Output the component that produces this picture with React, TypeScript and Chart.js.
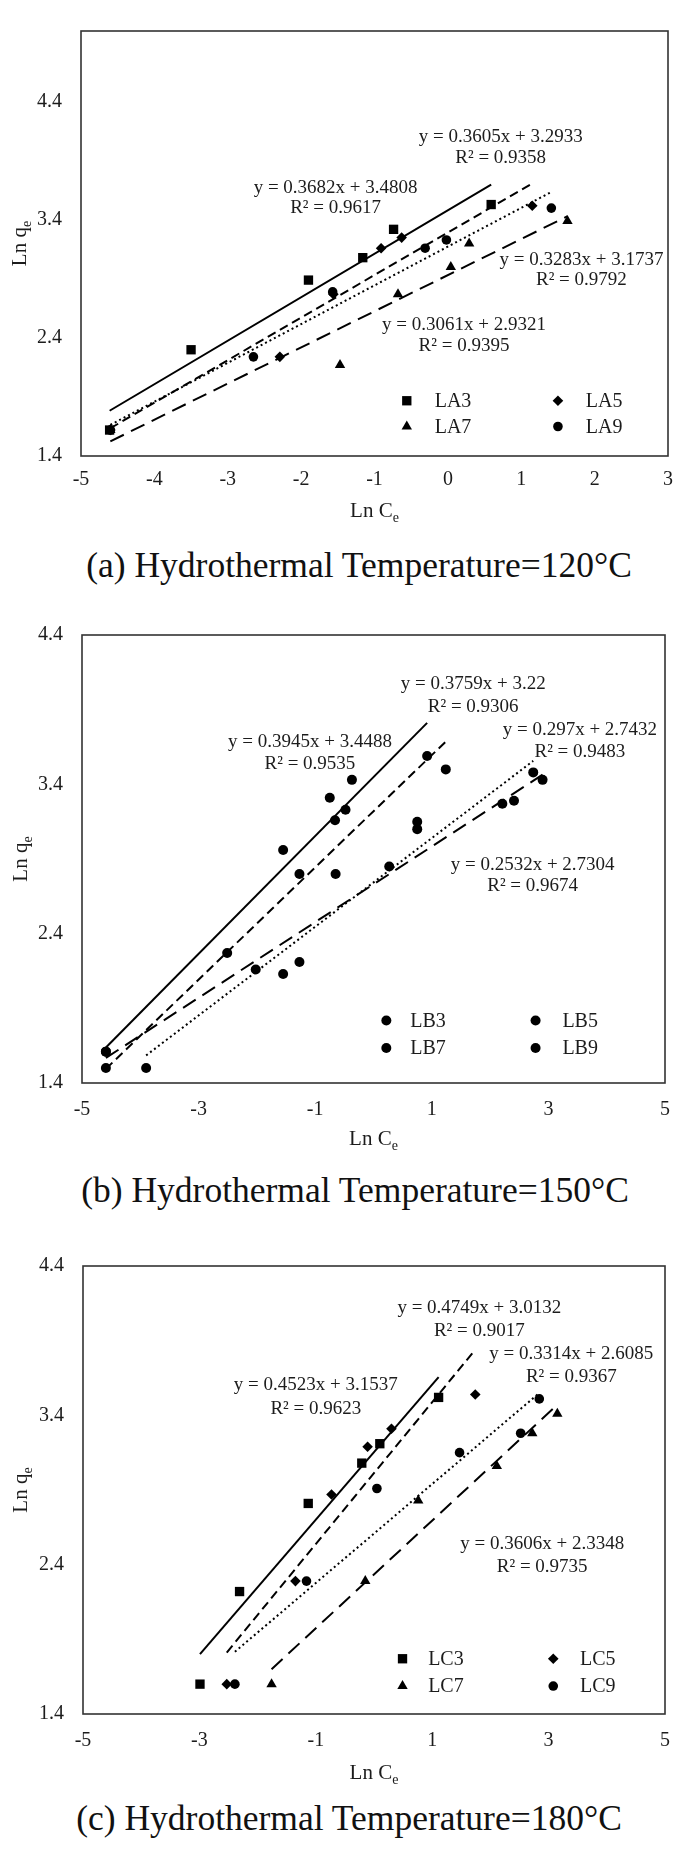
import React, { useEffect, useRef } from "react";
import { Chart, registerables } from "chart.js";

Chart.register(...registerables);

const FONT = "'Liberation Serif', 'Times New Roman', serif";
const INK = "#1c1c1c";

// ---------------- (a) 120 °C ----------------
const LA3_X = [-4.61, -3.5, -1.9, -1.16, -0.74, 0.59];
const LA3_Y = [1.62, 2.3, 2.89, 3.08, 3.32, 3.53];
const LA5_X = [-4.6, -2.29, -1.56, -0.91, -0.63, 1.15];
const LA5_Y = [1.62, 2.24, 2.77, 3.16, 3.25, 3.52];
const LA7_X = [-4.6, -1.47, -0.68, 0.04, 0.29, 1.63];
const LA7_Y = [1.62, 2.17, 2.77, 3.0, 3.2, 3.39];
const LA9_X = [-4.6, -2.65, -1.57, -0.31, -0.02, 1.41];
const LA9_Y = [1.62, 2.24, 2.79, 3.16, 3.23, 3.5];
const A_NAMES = ["LA3", "LA5", "LA7", "LA9"];
const A_SLOPES = [0.3682, 0.3605, 0.3061, 0.3283];
const A_INTERCEPTS = [3.4808, 3.2933, 2.9321, 3.1737];
const A_R2 = ["0.9617", "0.9358", "0.9395", "0.9792"];

// ---------------- (b) 150 °C ----------------
const LB3_X = [-4.59, -1.55, -0.75, -0.48, -0.37, 0.92];
const LB3_Y = [1.61, 2.96, 3.31, 3.23, 3.43, 3.59];
const LB5_X = [-4.59, -2.51, -1.27, -0.66, -0.65, 1.24];
const LB5_Y = [1.5, 2.27, 2.8, 3.16, 2.8, 3.5];
const LB7_X = [-4.59, -1.55, -1.27, 0.75, 2.41, 2.9];
const LB7_Y = [1.61, 2.13, 2.21, 3.1, 3.29, 3.43];
const LB9_X = [-3.9, -2.02, 0.27, 0.75, 2.21, 2.74];
const LB9_Y = [1.5, 2.16, 2.85, 3.15, 3.27, 3.48];
const B_NAMES = ["LB3", "LB5", "LB7", "LB9"];
const B_SLOPES = [0.3945, 0.3759, 0.2532, 0.297];
const B_INTERCEPTS = [3.4488, 3.22, 2.7304, 2.7432];
const B_R2 = ["0.9535", "0.9306", "0.9674", "0.9483"];

// ---------------- (c) 180 °C ----------------
const LC3_X = [-2.99, -2.31, -1.13, -0.21, 0.1, 1.11];
const LC3_Y = [1.6, 2.22, 2.81, 3.08, 3.21, 3.52];
const LC5_X = [-2.53, -1.35, -0.73, -0.11, 0.3, 1.74];
const LC5_Y = [1.6, 2.29, 2.87, 3.19, 3.31, 3.54];
const LC7_X = [-1.76, -0.15, 0.76, 2.11, 2.72, 3.15];
const LC7_Y = [1.6, 2.29, 2.83, 3.06, 3.28, 3.41];
const LC9_X = [-2.39, -1.16, 0.05, 1.47, 2.52, 2.84];
const LC9_Y = [1.6, 2.29, 2.91, 3.15, 3.28, 3.51];
const C_NAMES = ["LC3", "LC5", "LC7", "LC9"];
const C_SLOPES = [0.4523, 0.4749, 0.3606, 0.3314];
const C_INTERCEPTS = [3.1537, 3.0132, 2.3348, 2.6085];
const C_R2 = ["0.9623", "0.9017", "0.9735", "0.9367"];

// ---------------- ticks ----------------
const X_TICKS_A = [-5, -4, -3, -2, -1, 0, 1, 2, 3];
const X_TICKS_BC = [-5, -3, -1, 1, 3, 5];
const Y_TICKS = [1.4, 2.4, 3.4, 4.4];

// ---------------- styles ----------------
const DASHES = [[], [9, 5], [15, 8], [2, 3]];
const SHAPES_SQ = ["rect", "rectRot", "triangle", "circle"];
const RADII_SQ = [6.6, 5.3, 6, 4.8];
const SHAPES_B = ["circle", "circle", "circle", "circle"];
const RADII_B = [5, 5, 5, 5];

type PanelDef = {
  canvasTop: number;
  canvasHeight: number;
  plot: { left: number; top: number; right: number; bottom: number };
  xMin: number; xMax: number; yMin: number; yMax: number;
  xTicks: number[];
  xs: number[][]; ys: number[][];
  names: string[]; slopes: number[]; intercepts: number[]; r2: string[];
  shapes: string[]; radii: number[];
  eqPos: number[][];
  legend: { mx: number[]; tx: number[]; rows: number[] };
  xTickPad: number;
  xTitleY: number;
  yTitleX: number;
  caption: string; capX: number; capY: number;
};

const PANELS: PanelDef[] = [
  {
    canvasTop: 0, canvasHeight: 540,
    plot: { left: 81, top: 6, right: 675, bottom: 456 },
    xMin: -5, xMax: 3, yMin: 1.4, yMax: 5.0,
    xTicks: X_TICKS_A,
    xs: [LA3_X, LA5_X, LA7_X, LA9_X], ys: [LA3_Y, LA5_Y, LA7_Y, LA9_Y],
    names: A_NAMES, slopes: A_SLOPES, intercepts: A_INTERCEPTS, r2: A_R2,
    shapes: SHAPES_SQ, radii: RADII_SQ,
    eqPos: [[-1.53, 3.67, 3.5], [0.72, 4.1, 3.92], [0.22, 2.51, 2.33], [1.82, 3.06, 2.89]],
    legend: { mx: [-0.56, 1.5], tx: [-0.18, 1.88], rows: [1.868, 1.65] },
    xTickPad: 12, xTitleY: 510, yTitleX: 19,
    caption: "(a) Hydrothermal Temperature=120°C", capX: 359, capY: 565,
  },
  {
    canvasTop: 600, canvasHeight: 560,
    plot: { left: 82, top: 635, right: 674, bottom: 1083 },
    xMin: -5, xMax: 5, yMin: 1.4, yMax: 4.4,
    xTicks: X_TICKS_BC,
    xs: [LB3_X, LB5_X, LB7_X, LB9_X], ys: [LB3_Y, LB5_Y, LB7_Y, LB9_Y],
    names: B_NAMES, slopes: B_SLOPES, intercepts: B_INTERCEPTS, r2: B_R2,
    shapes: SHAPES_B, radii: RADII_B,
    eqPos: [[-1.09, 3.683, 3.534], [1.71, 4.07, 3.92], [2.73, 2.863, 2.718], [3.54, 3.761, 3.616]],
    legend: { mx: [0.22, 2.78], tx: [0.63, 3.24], rows: [1.819, 1.634] },
    xTickPad: 15, xTitleY: 1138, yTitleX: 20,
    caption: "(b) Hydrothermal Temperature=150°C", capX: 355, capY: 1190,
  },
  {
    canvasTop: 1230, canvasHeight: 560,
    plot: { left: 83, top: 1266, right: 672, bottom: 1714 },
    xMin: -5, xMax: 5, yMin: 1.4, yMax: 4.4,
    xTicks: X_TICKS_BC,
    xs: [LC3_X, LC5_X, LC7_X, LC9_X], ys: [LC3_Y, LC5_Y, LC7_Y, LC9_Y],
    names: C_NAMES, slopes: C_SLOPES, intercepts: C_INTERCEPTS, r2: C_R2,
    shapes: SHAPES_SQ, radii: RADII_SQ,
    eqPos: [[-1.0, 3.603, 3.444], [1.81, 4.116, 3.962], [2.89, 2.541, 2.387], [3.39, 3.81, 3.656]],
    legend: { mx: [0.49, 3.08], tx: [0.93, 3.54], rows: [1.77, 1.587] },
    xTickPad: 15, xTitleY: 1772, yTitleX: 20,
    caption: "(c) Hydrothermal Temperature=180°C", capX: 349, capY: 1818,
  },
];

function drawMarker(ctx: CanvasRenderingContext2D, shape: string, x: number, y: number, r: number) {
  ctx.beginPath();
  if (shape === "rect") {
    const s = Math.SQRT1_2 * r;
    ctx.rect(x - s, y - s, 2 * s, 2 * s);
  } else if (shape === "rectRot") {
    ctx.moveTo(x - r, y);
    ctx.lineTo(x, y - r);
    ctx.lineTo(x + r, y);
    ctx.lineTo(x, y + r);
    ctx.closePath();
  } else if (shape === "triangle") {
    ctx.moveTo(x, y - r);
    ctx.lineTo(x + r * 0.866, y + r / 2);
    ctx.lineTo(x - r * 0.866, y + r / 2);
    ctx.closePath();
  } else {
    ctx.arc(x, y, r, 0, Math.PI * 2);
  }
  ctx.fill();
}

function drawSubLabel(ctx: CanvasRenderingContext2D, main: string, sub: string, cx: number, cy: number, size: number) {
  const subSize = Math.round(size * 0.66);
  ctx.font = `${size}px ${FONT}`;
  const w1 = ctx.measureText(main).width;
  ctx.font = `${subSize}px ${FONT}`;
  const w2 = ctx.measureText(sub).width;
  const start = cx - (w1 + w2) / 2;
  const base = cy + size * 0.33;
  ctx.textAlign = "left";
  ctx.textBaseline = "alphabetic";
  ctx.font = `${size}px ${FONT}`;
  ctx.fillText(main, start, base);
  ctx.font = `${subSize}px ${FONT}`;
  ctx.fillText(sub, start + w1, base + size * 0.22);
}

function makeDecor(p: PanelDef) {
  return {
    id: "decor",
    afterDraw(chart: any) {
      const ctx: CanvasRenderingContext2D = chart.ctx;
      const xs = chart.scales.x;
      const ys = chart.scales.y;
      const a = chart.chartArea;
      ctx.save();
      // plot frame
      ctx.strokeStyle = "#333";
      ctx.lineWidth = 1.6;
      ctx.setLineDash([]);
      ctx.strokeRect(a.left, a.top, a.right - a.left, a.bottom - a.top);
      ctx.fillStyle = INK;
      // trend equations
      ctx.font = `19px ${FONT}`;
      ctx.textAlign = "center";
      ctx.textBaseline = "middle";
      p.eqPos.forEach((pos, i) => {
        const px = xs.getPixelForValue(pos[0]);
        ctx.fillText(`y = ${p.slopes[i]}x + ${p.intercepts[i]}`, px, ys.getPixelForValue(pos[1]));
        ctx.fillText(`R² = ${p.r2[i]}`, px, ys.getPixelForValue(pos[2]));
      });
      // legend (2 x 2)
      ctx.textAlign = "left";
      ctx.font = `20px ${FONT}`;
      p.names.forEach((name, i) => {
        const col = i % 2;
        const row = Math.floor(i / 2);
        const my = ys.getPixelForValue(p.legend.rows[row]);
        ctx.fillStyle = "#000";
        drawMarker(ctx, p.shapes[i], xs.getPixelForValue(p.legend.mx[col]), my, p.radii[i]);
        ctx.fillStyle = INK;
        ctx.font = `20px ${FONT}`;
        ctx.textBaseline = "middle";
        ctx.fillText(name, xs.getPixelForValue(p.legend.tx[col]), my + 1);
      });
      // axis titles
      drawSubLabel(ctx, "Ln C", "e", (a.left + a.right) / 2, p.xTitleY - p.canvasTop, 21);
      ctx.translate(p.yTitleX, (a.top + a.bottom) / 2);
      ctx.rotate(-Math.PI / 2);
      drawSubLabel(ctx, "Ln q", "e", 0, 0, 21);
      ctx.restore();
    },
  };
}

function buildConfig(p: PanelDef): any {
  const datasets: any[] = [];
  p.names.forEach((name, i) => {
    datasets.push({
      type: "scatter",
      label: name,
      data: p.xs[i].map((x, j) => ({ x, y: p.ys[i][j] })),
      pointStyle: p.shapes[i],
      pointRadius: p.radii[i],
      pointHoverRadius: p.radii[i],
      pointBackgroundColor: "#000",
      pointBorderColor: "#000",
      pointBorderWidth: 0,
      showLine: false,
      order: 0,
    });
  });
  p.names.forEach((name, i) => {
    const x0 = Math.min(...p.xs[i]);
    const x1 = Math.max(...p.xs[i]);
    datasets.push({
      type: "line",
      label: name + " fit",
      data: [
        { x: x0, y: p.slopes[i] * x0 + p.intercepts[i] },
        { x: x1, y: p.slopes[i] * x1 + p.intercepts[i] },
      ],
      borderColor: "#000",
      borderWidth: i === 3 ? 2 : 2,
      borderDash: DASHES[i],
      pointRadius: 0,
      fill: false,
      tension: 0,
      order: 1,
    });
  });
  const localTop = p.plot.top - p.canvasTop;
  const localBottom = p.plot.bottom - p.canvasTop;
  const xAxisH = 60;
  return {
    type: "scatter",
    data: { datasets },
    options: {
      animation: false,
      responsive: false,
      devicePixelRatio: 1,
      events: [],
      layout: {
        padding: {
          left: 0,
          top: localTop,
          right: 685 - p.plot.right,
          bottom: p.canvasHeight - localBottom - xAxisH,
        },
      },
      plugins: { legend: { display: false }, tooltip: { enabled: false }, title: { display: false } },
      scales: {
        x: {
          type: "linear",
          min: p.xMin,
          max: p.xMax,
          afterBuildTicks: (ax: any) => {
            ax.ticks = p.xTicks.map((v) => ({ value: v }));
          },
          afterFit: (ax: any) => {
            ax.height = xAxisH;
          },
          grid: { display: false, drawTicks: false },
          border: { display: false },
          ticks: {
            font: { family: FONT, size: 20 },
            color: INK,
            padding: p.xTickPad,
            maxRotation: 0,
            autoSkip: false,
            callback: (v: any) => String(v),
          },
        },
        y: {
          type: "linear",
          min: p.yMin,
          max: p.yMax,
          afterBuildTicks: (ax: any) => {
            ax.ticks = Y_TICKS.map((v) => ({ value: v }));
          },
          afterFit: (ax: any) => {
            ax.width = p.plot.left;
          },
          grid: { display: false, drawTicks: false },
          border: { display: false },
          ticks: {
            font: { family: FONT, size: 20 },
            color: INK,
            padding: 19,
            autoSkip: false,
            callback: (v: any) => String(v),
          },
        },
      },
    },
    plugins: [makeDecor(p)],
  };
}

function Panel({ p }: { p: PanelDef }) {
  const ref = useRef<HTMLCanvasElement>(null);
  useEffect(() => {
    const chart = new Chart(ref.current as HTMLCanvasElement, buildConfig(p));
    return () => chart.destroy();
  }, [p]);
  return (
    <>
      <canvas
        ref={ref}
        width={685}
        height={p.canvasHeight}
        style={{ position: "absolute", left: 0, top: p.canvasTop, width: 685, height: p.canvasHeight, display: "block" }}
      />
      <div
        style={{
          position: "absolute",
          left: p.capX - 340,
          width: 680,
          top: p.capY - 21,
          height: 42,
          lineHeight: "42px",
          textAlign: "center",
          fontFamily: FONT,
          fontSize: 35.5,
          color: "#111",
          whiteSpace: "nowrap",
        }}
      >
        {p.caption}
      </div>
    </>
  );
}

export default function App() {
  return (
    <div style={{ position: "absolute", left: 0, top: 0, width: 685, height: 1851, background: "#fff", overflow: "hidden" }}>
      {PANELS.map((p, i) => (
        <Panel key={i} p={p} />
      ))}
    </div>
  );
}
